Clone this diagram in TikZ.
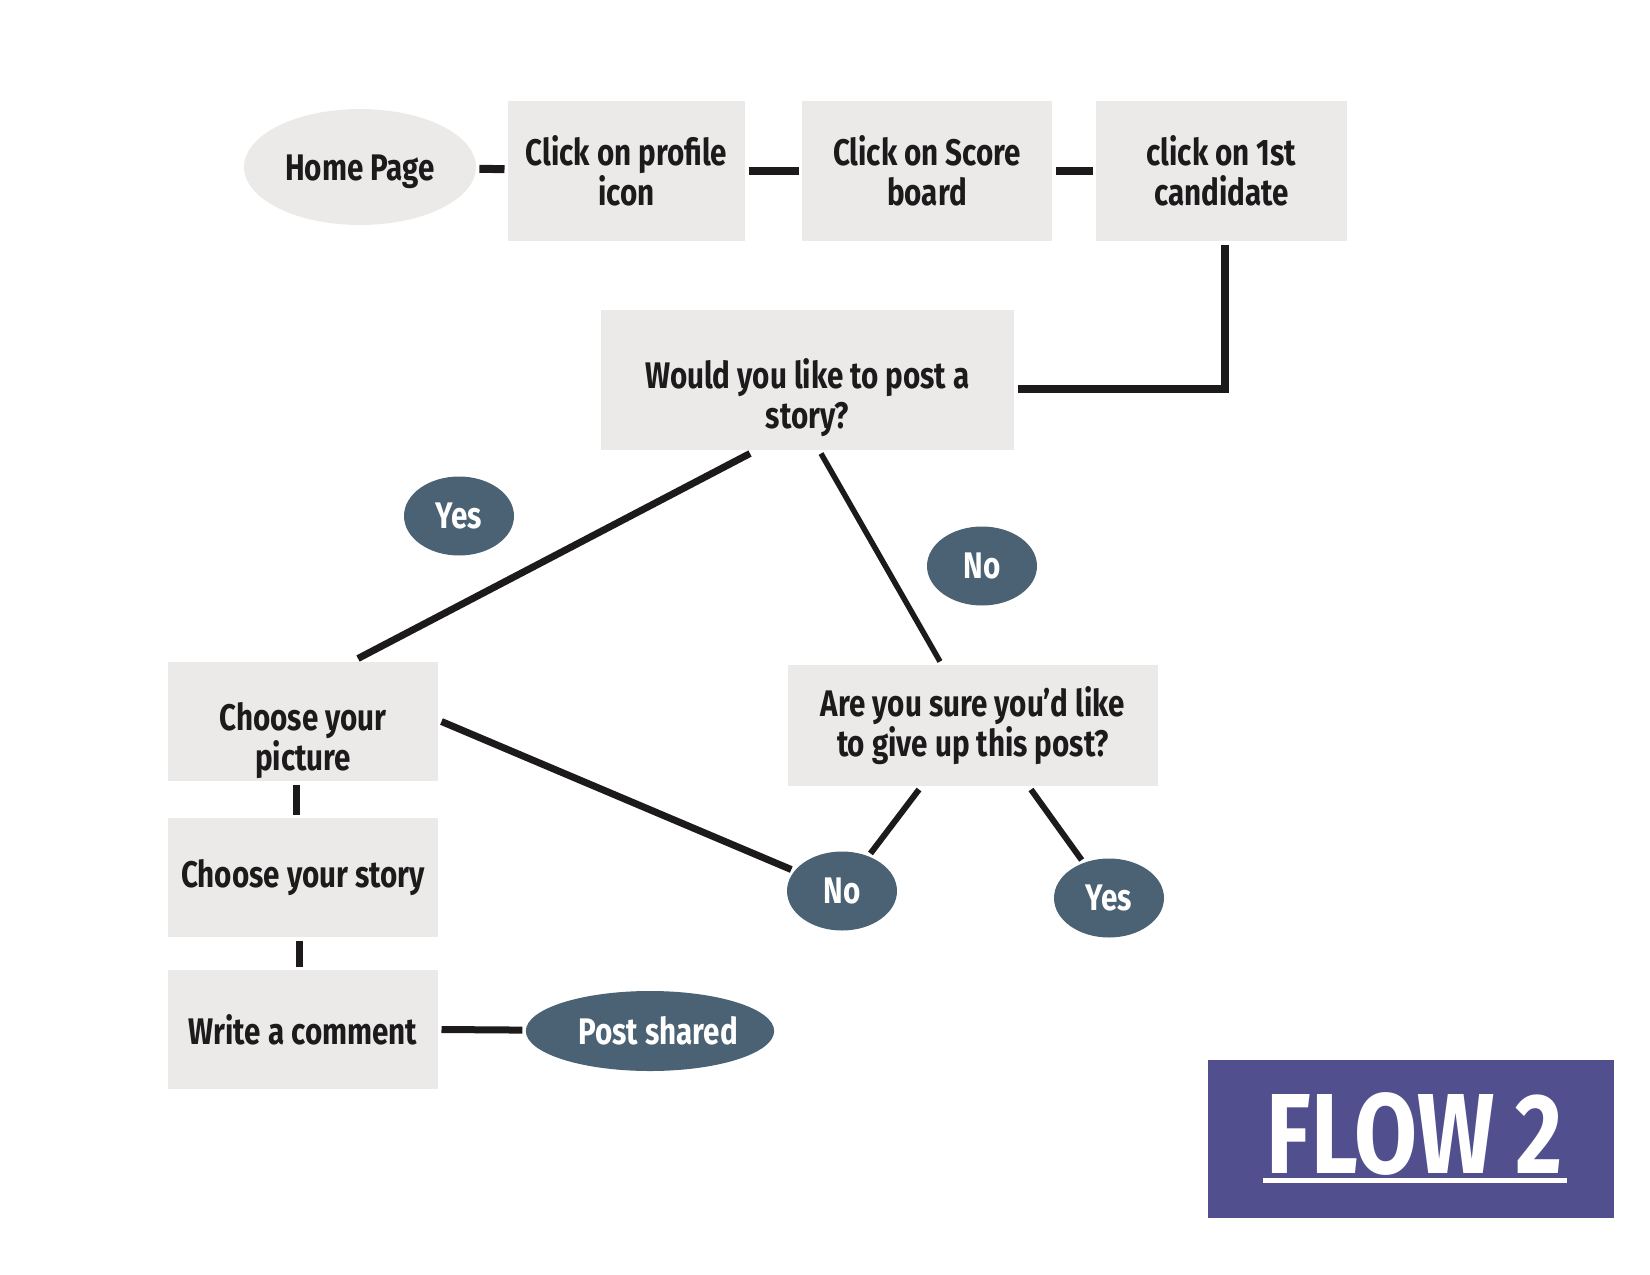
\documentclass[tikz,border=0pt]{standalone}
\usepackage{fontspec}
\setmainfont{Fira Sans}[FakeStretch=0.8]
\usetikzlibrary{shapes.geometric}
\definecolor{boxgray}{HTML}{ECEAE9}
\definecolor{slate}{HTML}{4A6273}
\definecolor{flowblue}{HTML}{524F8E}
\definecolor{ink}{HTML}{1C1A1B}

\begin{document}
\begin{tikzpicture}[x=1pt,y=-1pt,line width=7pt,draw=ink]
    \tikzstyle{stepbox}=[rectangle,fill=boxgray,minimum height=140pt,inner sep=0pt,align=center,text=ink,font=\bfseries\fontsize{37}{40}\selectfont]
    \tikzstyle{answer}=[ellipse,fill=slate,minimum width=110pt,minimum height=79pt,inner sep=0pt,text=white,font=\bfseries\fontsize{37}{40}\selectfont]
    \useasboundingbox (0,0) rectangle (1650,1275);

    \node[stepbox,ellipse,minimum width=232pt,minimum height=116pt] (home) at (360,167) {\rule{0pt}{36pt}Home Page};
    \foreach \name/\x/\w/\txt in {prof/626.5/237/{Click on profile\\icon}, score/927/250/{Click on Score\\board}, cand/1221.5/251/{click on 1st\\candidate}}
        \node[stepbox,minimum width=\w pt] (\name) at (\x,171) {\txt};

    \node[stepbox,minimum width=413pt] (would) at (807.5,380) {\rule{0pt}{66pt}Would you like to post a\\story?};
    \node[stepbox,minimum width=270pt,minimum height=119pt] (pic) at (303,721.5) {\rule{0pt}{66pt}Choose your\\picture};
    \node[stepbox,minimum width=270pt,minimum height=119pt] (story) at (303,877.5) {Choose your story};
    \node[stepbox,minimum width=270pt,minimum height=119pt] (comment) at (303,1029.5) {Write a comment};
    \node[stepbox,minimum width=370pt,minimum height=121pt] (sure) at (973,725.5) {Are you sure you’d like\\to give up this post?};

    \foreach \name/\x/\y/\txt in {yes1/459/516/Yes, no1/982/566/No, no2/842/891/No, yes2/1109/898/Yes}
        \node[answer] (\name) at (\x,\y) {\txt};
    \node[answer,minimum width=236pt,minimum height=80pt] (post) at (650,1031) {\hspace{16pt}Post shared};

    \foreach \from/\to in {home/prof,prof/score,score/cand}
        \draw[line width=8pt] (\from) -- (\to);
    \draw[line width=7.5pt] ([xshift=3.5pt]cand.south) |- ([yshift=-9pt]would.east);
    \draw ([xshift=-57.5pt]would.south) -- ([xshift=55pt]pic.north);
    \draw[line width=5.5pt] ([xshift=13.5pt]would.south) -- ([xshift=-33pt]sure.north);
    \draw (pic.east) -- (no2);
    \draw[line width=6pt] ([xshift=-54pt]sure.south) -- (no2);
    \draw[line width=6pt] ([xshift=58pt]sure.south) -- (yes2);
    \draw ([xshift=-7pt]pic.south) -- ([xshift=-7pt]story.north);
    \draw ([xshift=-4pt]story.south) -- ([xshift=-4pt]comment.north);
    \draw (comment.east) -- (post);

    \node[rectangle,fill=flowblue,minimum width=406pt,minimum height=158pt] (flowbox) at (1411,1139) {};
    \node[inner sep=0pt,text=white,font=\bfseries\fontsize{114}{118}\selectfont] (flowtitle) at (1415,1134) {FLOW 2};
    \draw[white,line width=5pt] ([yshift=-7pt]flowtitle.base west) -- ([yshift=-7pt]flowtitle.base east);
\end{tikzpicture}
\end{document}
